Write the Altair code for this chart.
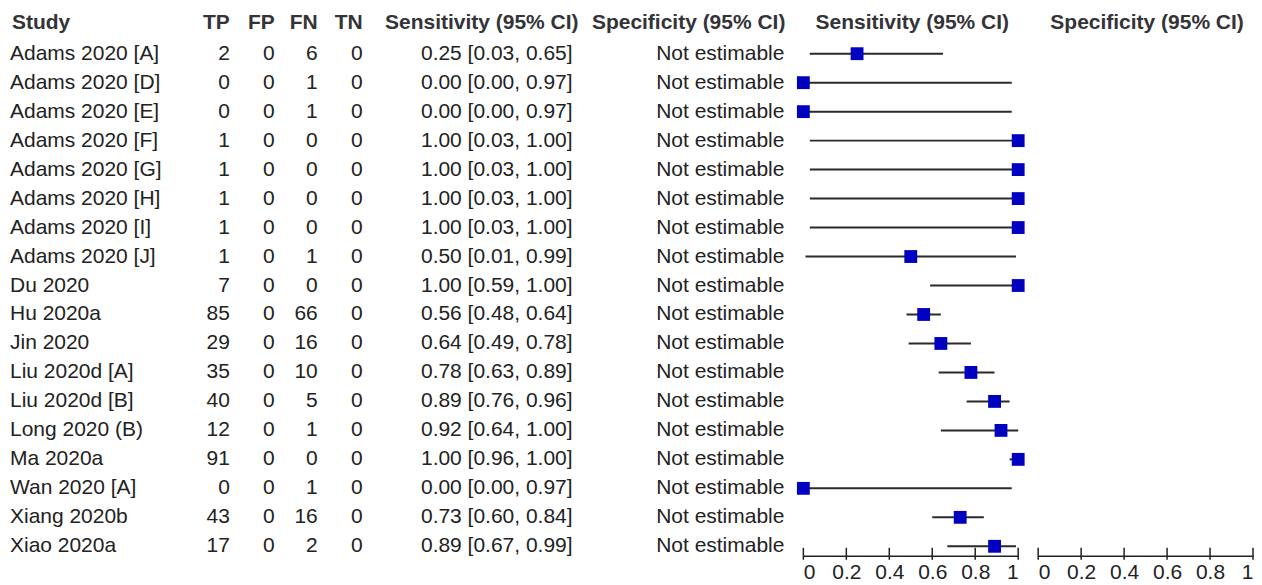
import altair as alt
import pandas as pd

studies = ["Adams 2020 [A]", "Adams 2020 [D]", "Adams 2020 [E]", "Adams 2020 [F]",
           "Adams 2020 [G]", "Adams 2020 [H]", "Adams 2020 [I]", "Adams 2020 [J]",
           "Du 2020", "Hu 2020a", "Jin 2020", "Liu 2020d [A]", "Liu 2020d [B]",
           "Long 2020 (B)", "Ma 2020a", "Wan 2020 [A]", "Xiang 2020b", "Xiao 2020a"]
tp = [2, 0, 0, 1, 1, 1, 1, 1, 7, 85, 29, 35, 40, 12, 91, 0, 43, 17]
fp = [0] * 18
fn = [6, 1, 1, 0, 0, 0, 0, 1, 0, 66, 16, 10, 5, 1, 0, 1, 16, 2]
tn = [0] * 18
sens = [0.25, 0.00, 0.00, 1.00, 1.00, 1.00, 1.00, 0.50, 1.00, 0.56, 0.64, 0.78, 0.89, 0.92, 1.00, 0.00, 0.73, 0.89]
sens_lo = [0.03, 0.00, 0.00, 0.03, 0.03, 0.03, 0.03, 0.01, 0.59, 0.48, 0.49, 0.63, 0.76, 0.64, 0.96, 0.00, 0.60, 0.67]
sens_hi = [0.65, 0.97, 0.97, 1.00, 1.00, 1.00, 1.00, 0.99, 1.00, 0.64, 0.78, 0.89, 0.96, 1.00, 1.00, 0.97, 0.84, 0.99]
spec_text = ["Not estimable"] * 18
axis_ticks = [0, 0.2, 0.4, 0.6, 0.8, 1]

df = pd.DataFrame({
    "idx": list(range(len(studies))),
    "study": studies,
    "tp": tp, "fp": fp, "fn": fn, "tn": tn,
    "sens": sens, "lo": sens_lo, "hi": sens_hi,
    "spec": spec_text,
})
df["sens_txt"] = [f"{s:.2f} [{l:.2f}, {h:.2f}]" for s, l, h in zip(sens, sens_lo, sens_hi)]
ticks_df = pd.DataFrame({"t": axis_ticks})

H = 548
ROW = 29.0
d0 = -45.5 / ROW
d1 = d0 + H / ROW
yscale = alt.Scale(domain=[d0, d1], reverse=True, nice=False, zero=False)
Y = alt.Y("idx:Q", scale=yscale, axis=None)

FONT = "Liberation Sans"
TXT = "#222222"
HDR = "#333338"
FS = 21
HFS = 21
HY = 15


def header(label, x, align="right"):
    return alt.Chart(pd.DataFrame({"lab": [label]})).mark_text(
        font=FONT, fontSize=HFS, fontWeight="bold", color=HDR, align=align, baseline="middle"
    ).encode(x=alt.value(x), y=alt.value(HY), text="lab:N")


def col(field, x, align="right"):
    return alt.Chart(df).mark_text(
        font=FONT, fontSize=FS, color=TXT, align=align, baseline="middle"
    ).encode(x=alt.value(x), y=Y, text=f"{field}:N")


table = alt.layer(
    header("Study", 4, "left"),
    header("TP", 222), header("FP", 267), header("FN", 310), header("TN", 355),
    header("Sensitivity (95% CI)", 571), header("Specificity (95% CI)", 778),
    col("study", 2, "left"),
    col("tp", 222), col("fp", 267), col("fn", 310), col("tn", 355),
    col("sens_txt", 565), col("spec", 777),
).properties(width=776, height=H)

xscale = alt.Scale(domain=[0, 1], nice=False, zero=False)
xaxis = alt.Axis(values=axis_ticks, format="~g", ticks=False, domain=True, domainColor="#222222",
                 domainWidth=1.5, labelFont=FONT, labelFontSize=21, labelColor=TXT,
                 labelBaseline="alphabetic", labelPadding=23, grid=False, title=None,
                 labelFlush=True)


def axis_layers(title):
    tick_rules = alt.Chart(ticks_df).mark_rule(color="#222222", strokeWidth=1.5).encode(
        x=alt.X("t:Q", scale=xscale, axis=xaxis),
        y=alt.value(H - 8), y2=alt.value(H + 4),
    )
    hdr = alt.Chart(pd.DataFrame({"lab": [title]})).mark_text(
        font=FONT, fontSize=HFS, fontWeight="bold", color=HDR, align="center", baseline="middle"
    ).encode(x=alt.value(109), y=alt.value(HY), text="lab:N")
    return tick_rules, hdr


tr1, h1 = axis_layers("Sensitivity (95% CI)")
ci = alt.Chart(df).mark_rule(color="#2a2a2a", strokeWidth=2).encode(
    x=alt.X("lo:Q", scale=xscale, axis=xaxis), x2="hi:Q", y=Y
)
pts = alt.Chart(df).mark_square(size=165, color="#0000C0", opacity=1, filled=True).encode(
    x=alt.X("sens:Q", scale=xscale, axis=xaxis), y=Y
)
forest_sens = alt.layer(tr1, ci, pts, h1).properties(width=215, height=H)

tr2, h2 = axis_layers("Specificity (95% CI)")
forest_spec = alt.layer(tr2, h2).properties(width=215, height=H)

chart = alt.hconcat(table, forest_sens, forest_spec, spacing=20, bounds="flush").properties(
    padding=0
).configure_view(stroke=None)

chart.save("out.html", embed_options={"renderer": "svg", "actions": False})
